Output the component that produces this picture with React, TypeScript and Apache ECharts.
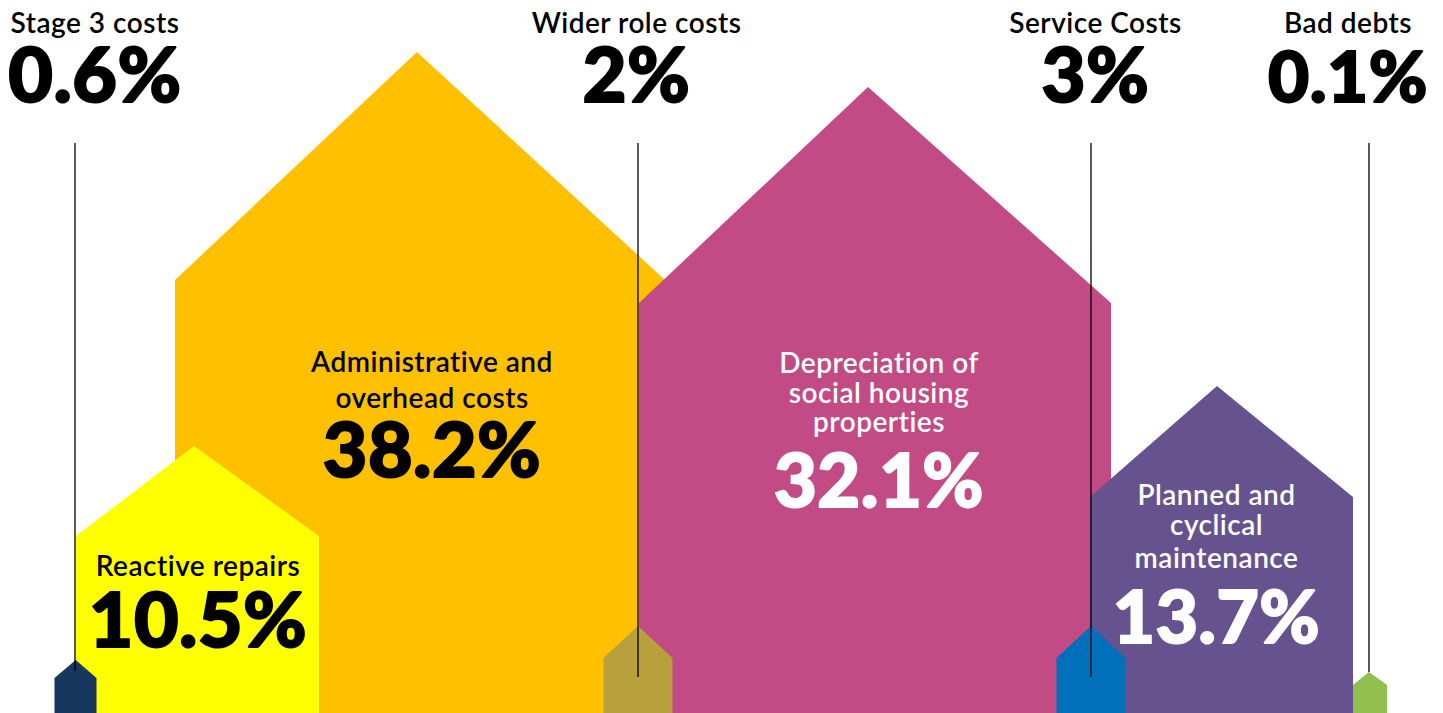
import React, { useEffect, useRef } from 'react';
import * as echarts from 'echarts';

// ---- data ----
const categories = [
  'Stage 3 costs',
  'Reactive repairs',
  'Administrative and overhead costs',
  'Wider role costs',
  'Depreciation of social housing properties',
  'Service Costs',
  'Planned and cyclical maintenance',
  'Bad debts',
];
const values = [0.6, 10.5, 38.2, 2, 32.1, 3, 13.7, 0.1];
const nameLines = [
  ['Stage 3 costs'],
  ['Reactive repairs'],
  ['Administrative and', 'overhead costs'],
  ['Wider role costs'],
  ['Depreciation of', 'social housing', 'properties'],
  ['Service Costs'],
  ['Planned and', 'cyclical', 'maintenance'],
  ['Bad debts'],
];

// ---- layout (pixel-space axis units) ----
const W = 1443;
const H = 713;
const houses = [
  { cx: 75.5, w: 42, apexX: 75.7, apex: 660, shoulder: 678, color: '#17375E' },
  { cx: 197.5, w: 243, apexX: 194, apex: 446, shoulder: 536, color: '#FFFF00' },
  { cx: 420, w: 490, apexX: 417, apex: 52, shoulder: 280, color: '#FFC000' },
  { cx: 638, w: 69, apexX: 638, apex: 626, shoulder: 658, color: '#B8A03C' },
  { cx: 875, w: 472, apexX: 868, apex: 87, shoulder: 303, color: '#C24A85' },
  { cx: 1091, w: 69, apexX: 1091, apex: 626, shoulder: 658, color: '#0070BA' },
  { cx: 1221.5, w: 263, apexX: 1217, apex: 386, shoulder: 497, color: '#65528F' },
  { cx: 1370, w: 34, apexX: 1369, apex: 672, shoulder: 685, color: '#92C050' },
];
const drawOrder = [2, 1, 4, 6, 0, 3, 5, 7];
const labelLayout = [
  { x: 95, nameBase: [33], pctBase: 102, pctSize: 77, fill: '#000', lead: { x: 75, y1: 143, y2: 671 } },
  { x: 198, nameBase: [576], pctBase: 647, pctSize: 77, fill: '#000' },
  { x: 432, nameBase: [372, 408], pctBase: 477, pctSize: 77, fill: '#000' },
  { x: 636.5, nameBase: [33], pctBase: 102, pctSize: 76, fill: '#000', lead: { x: 638, y1: 143, y2: 677 } },
  { x: 879, nameBase: [373, 403, 432], pctBase: 507, pctSize: 74, fill: '#fff' },
  { x: 1095.5, nameBase: [33], pctBase: 102, pctSize: 76, fill: '#000', lead: { x: 1091, y1: 143, y2: 677 } },
  { x: 1216.5, nameBase: [505, 535, 568], pctBase: 643, pctSize: 73, fill: '#fff' },
  { x: 1348, nameBase: [33], pctBase: 102, pctSize: 71, fill: '#000', lead: { x: 1369, y1: 143, y2: 672 } },
];
const NAME_SIZE = 28;
const FONT = 'Lato, "Noto Sans", sans-serif';
const CENTRAL = 0.387;

export default function App() {
  const ref = useRef<HTMLDivElement>(null);
  useEffect(() => {
    if (!ref.current) return;
    const chart = echarts.init(ref.current, undefined, { renderer: 'svg' });
    const option: any = {
      animation: false,
      backgroundColor: '#ffffff',
      grid: { left: 0, right: 0, top: 0, bottom: 0 },
      xAxis: { type: 'value', min: 0, max: W, show: false },
      yAxis: { type: 'value', min: 0, max: H, inverse: true, show: false },
      series: [
        {
          type: 'custom',
          name: 'houses',
          clip: true,
          data: drawOrder.map((i) => [i, values[i]]),
          encode: { x: 0, y: 1 },
          renderItem: (params: any, api: any) => {
            const i = api.value(0);
            const h = houses[i];
            const l = h.cx - h.w / 2;
            const r = h.cx + h.w / 2;
            const pts = [
              api.coord([l, H]),
              api.coord([l, h.shoulder]),
              api.coord([h.apexX, h.apex]),
              api.coord([r, h.shoulder]),
              api.coord([r, H]),
            ];
            return { type: 'polygon', shape: { points: pts }, style: { fill: h.color } };
          },
        },
        {
          type: 'custom',
          name: 'leaders',
          data: values.map((v, i) => [i, v]).filter((d) => !!labelLayout[d[0]].lead),
          encode: { x: 0, y: 1 },
          renderItem: (params: any, api: any) => {
            const i = api.value(0);
            const ld = labelLayout[i].lead!;
            const p1 = api.coord([ld.x, ld.y1]);
            const p2 = api.coord([ld.x, ld.y2]);
            return {
              type: 'line',
              shape: { x1: p1[0], y1: p1[1], x2: p2[0], y2: p2[1] },
              style: { stroke: '#000', lineWidth: 1.3 },
            };
          },
        },
        {
          type: 'custom',
          name: 'labels',
          data: values.map((v, i) => [i, v]),
          encode: { x: 0, y: 1 },
          renderItem: (params: any, api: any) => {
            const i = api.value(0);
            const lay = labelLayout[i];
            const children: any[] = [];
            nameLines[i].forEach((t, k) => {
              const p = api.coord([lay.x, lay.nameBase[k] - CENTRAL * NAME_SIZE]);
              children.push({
                type: 'text',
                style: {
                  text: t,
                  x: p[0],
                  y: p[1],
                  fill: lay.fill,
                  font: `600 ${NAME_SIZE}px ${FONT}`,
                  align: 'center',
                  verticalAlign: 'middle',
                },
              });
            });
            const pp = api.coord([lay.x, lay.pctBase - CENTRAL * lay.pctSize]);
            children.push({
              type: 'text',
              style: {
                text: `${values[i]}%`,
                x: pp[0],
                y: pp[1],
                fill: lay.fill,
                stroke: lay.fill,
                lineWidth: 2,
                font: `900 ${lay.pctSize}px ${FONT}`,
                align: 'center',
                verticalAlign: 'middle',
              },
            });
            return { type: 'group', children };
          },
        },
      ],
    };
    chart.setOption(option);
    return () => chart.dispose();
  }, []);
  return (
    <div
      ref={ref}
      style={{
        position: 'fixed',
        left: 0,
        top: 0,
        width: W,
        height: H,
        background: '#fff',
        fontVariantLigatures: 'none',
        fontFeatureSettings: '"liga" 0, "clig" 0',
        letterSpacing: '0.5px',
      }}
      aria-label={categories.join(', ')}
    />
  );
}
